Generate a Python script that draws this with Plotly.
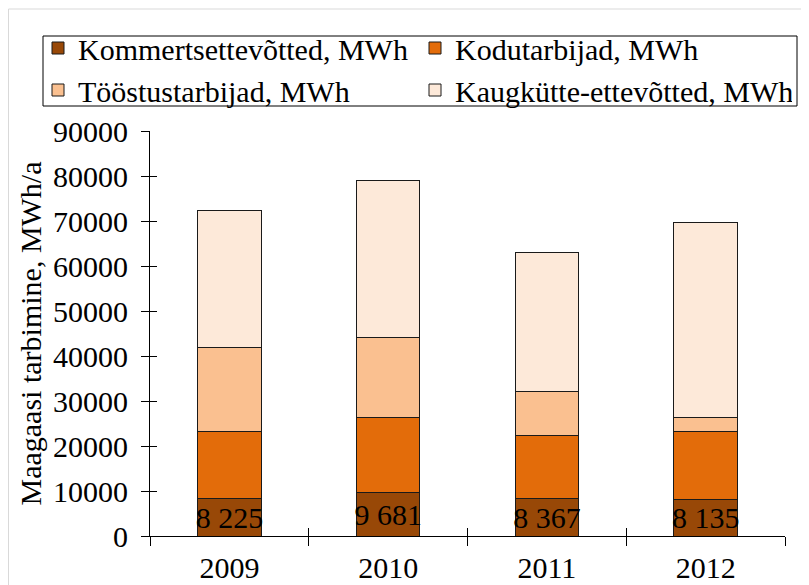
import plotly.graph_objects as go

years = ["2009", "2010", "2011", "2012"]
kommerts = [8225, 9681, 8367, 8135]
kodu = [15100, 16600, 13950, 15150]
toostus = [18600, 17900, 9900, 3000]
kaug = [30500, 34750, 30750, 43300]

names = ["Kommertsettevõtted, MWh", "Kodutarbijad, MWh",
         "Tööstustarbijad, MWh", "Kaugkütte-ettevõtted, MWh"]
colors = ["#984807", "#E36C0A", "#FAC090", "#FDE9D9"]
y_ticks = [0, 10000, 20000, 30000, 40000, 50000, 60000, 70000, 80000, 90000]

FONT = "Liberation Serif, Times New Roman, serif"
FS = 30

fig = go.Figure()
series = [kommerts, kodu, toostus, kaug]
for i, (nm, vals, col) in enumerate(zip(names, series, colors)):
    kw = {}
    if i == 0:
        kw = dict(text=[f"{v:,}".replace(",", " ") for v in vals],
                  textposition="inside", insidetextanchor="middle",
                  constraintext="none",
                  textfont=dict(family=FONT, size=FS, color="black"))
    fig.add_trace(go.Bar(x=years, y=vals, name=nm,
                         marker=dict(color=col, line=dict(color="#1a1a1a", width=1)),
                         hoverinfo="skip", **kw))

# invisible helper trace for crossing tick marks
fig.add_trace(go.Scatter(x=years, y=kommerts, xaxis="x2", yaxis="y2",
                         mode="markers", marker=dict(opacity=0),
                         showlegend=False, hoverinfo="skip"))

W, H = 809, 585
L, R, T, B = 142, 32, 123, 57
pw, ph = W - L - R, H - T - B

def px(x):
    return (x - L) / pw

def py(y):
    return (H - B - y) / ph

fig.update_layout(
    width=W, height=H,
    margin=dict(l=L, r=R, t=T, b=B, autoexpand=False),
    paper_bgcolor="white", plot_bgcolor="white",
    barmode="stack", bargap=0.6,
    font=dict(family=FONT, size=FS, color="black"),
    showlegend=True,
    legend=dict(orientation="h", x=px(30), xanchor="left",
                y=py(14), yanchor="top",
                entrywidth=332, entrywidthmode="pixels",
                bgcolor="rgba(0,0,0,0)", borderwidth=0,
                font=dict(family=FONT, size=FS, color="black"),
                traceorder="normal"),
    xaxis=dict(type="category", categoryorder="array", categoryarray=years,
               range=[-0.5, 3.5], showline=True, linecolor="black", linewidth=1,
               ticks="outside", ticklen=9, tickcolor="black", tickwidth=1,
               tickson="boundaries", showgrid=False, zeroline=False,
               ticklabelstandoff=5,
               tickfont=dict(family=FONT, size=FS, color="black")),
    yaxis=dict(range=[0, 90000], tickvals=y_ticks, ticktext=[str(v) for v in y_ticks],
               showline=True, linecolor="black", linewidth=1,
               ticks="outside", ticklen=8, tickcolor="black", tickwidth=1,
               showgrid=False, zeroline=False, ticklabelstandoff=7,
               tickfont=dict(family=FONT, size=FS, color="black"),
               title=dict(text="Maagaasi tarbimine, MWh/a", standoff=2,
                          font=dict(family=FONT, size=FS, color="black"))),
    xaxis2=dict(type="category", categoryorder="array", categoryarray=years,
                overlaying="x", matches="x", range=[-0.5, 3.5],
                ticks="inside", ticklen=8, tickcolor="black", tickwidth=1,
                tickson="boundaries", showticklabels=False, showline=False,
                showgrid=False, zeroline=False),
    yaxis2=dict(overlaying="y", range=[0, 90000], tickvals=y_ticks,
                ticks="inside", ticklen=7, tickcolor="black", tickwidth=1,
                showticklabels=False, showline=False, showgrid=False, zeroline=False),
    shapes=[
        dict(type="rect", xref="paper", yref="paper",
             x0=px(0.5), x1=px(815), y0=py(595), y1=py(1),
             line=dict(color="#D9D9D9", width=1), fillcolor="rgba(0,0,0,0)", layer="below"),
        dict(type="rect", xref="paper", yref="paper",
             x0=px(35), x1=px(789), y0=py(98), y1=py(28),
             line=dict(color="black", width=1), fillcolor="rgba(0,0,0,0)"),
    ],
)

fig.write_html("out.html")
